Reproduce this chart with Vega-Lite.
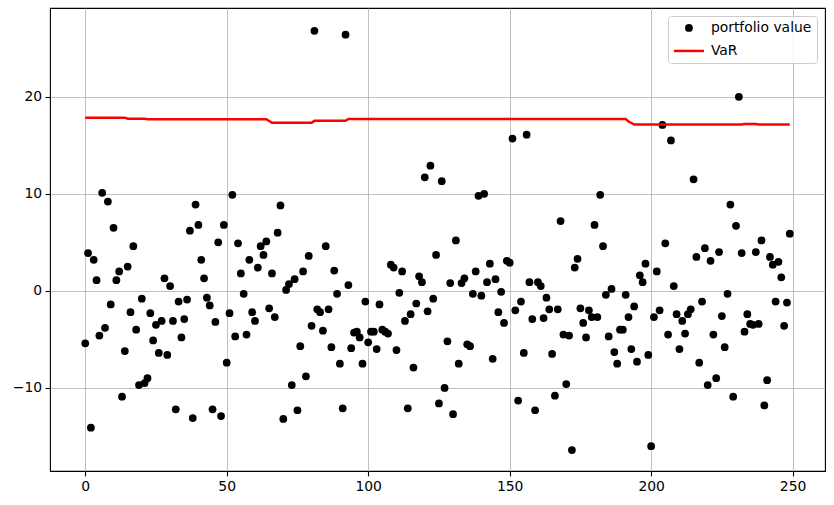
{
"$schema": "https://vega.github.io/schema/vega-lite/v6.json",
"width": 775, "height": 463,
"autosize": {"type": "none"},
"padding": {"left": 50, "top": 8, "right": 9, "bottom": 34},
"background": "white",
"config": {
 "font": "DejaVu Sans",
 "view": {"stroke": "#000000", "strokeWidth": 1.1},
 "axis": {"domain": false, "grid": true, "gridColor": "#b0b0b0", "gridWidth": 0.8, "tickColor": "#000000", "tickSize": 4.9, "tickWidth": 1.1, "labelFont": "DejaVu Sans", "labelFontSize": 13.9, "labelColor": "#000000", "labelPadding": 3.5, "title": null},
 "legend": {"orient": "top-right", "offset": 8, "fillColor": "rgba(255,255,255,0.8)", "strokeColor": "#cccccc", "cornerRadius": 3, "padding": 5, "labelFont": "DejaVu Sans", "labelFontSize": 13.9, "labelColor": "#000000", "rowPadding": 8, "symbolOffset": 9, "labelOffset": 15, "symbolSize": 60, "symbolStrokeWidth": 0, "symbolOpacity": 1}
},
"data": {"values": [
{"t":0,"pv":-5.4,"var":17.85},{"t":1,"pv":3.9,"var":17.85},{"t":2,"pv":-14.1,"var":17.85},{"t":3,"pv":3.2,"var":17.85},{"t":4,"pv":1.1,"var":17.85},{"t":5,"pv":-4.6,"var":17.85},{"t":6,"pv":10.1,"var":17.85},{"t":7,"pv":-3.8,"var":17.85},{"t":8,"pv":9.2,"var":17.85},{"t":9,"pv":-1.4,"var":17.85},
{"t":10,"pv":6.5,"var":17.85},{"t":11,"pv":1.1,"var":17.85},{"t":12,"pv":2.0,"var":17.85},{"t":13,"pv":-10.9,"var":17.85},{"t":14,"pv":-6.2,"var":17.85},{"t":15,"pv":2.5,"var":17.75},{"t":16,"pv":-2.2,"var":17.75},{"t":17,"pv":4.6,"var":17.75},{"t":18,"pv":-4.0,"var":17.75},{"t":19,"pv":-9.7,"var":17.75},
{"t":20,"pv":-0.8,"var":17.75},{"t":21,"pv":-9.5,"var":17.75},{"t":22,"pv":-9.0,"var":17.68},{"t":23,"pv":-2.3,"var":17.68},{"t":24,"pv":-5.1,"var":17.68},{"t":25,"pv":-3.5,"var":17.68},{"t":26,"pv":-6.4,"var":17.68},{"t":27,"pv":-3.1,"var":17.68},{"t":28,"pv":1.3,"var":17.68},{"t":29,"pv":-6.6,"var":17.68},
{"t":30,"pv":0.5,"var":17.68},{"t":31,"pv":-3.1,"var":17.68},{"t":32,"pv":-12.2,"var":17.68},{"t":33,"pv":-1.1,"var":17.68},{"t":34,"pv":-4.8,"var":17.68},{"t":35,"pv":-2.9,"var":17.68},{"t":36,"pv":-0.9,"var":17.68},{"t":37,"pv":6.2,"var":17.68},{"t":38,"pv":-13.1,"var":17.68},{"t":39,"pv":8.9,"var":17.68},
{"t":40,"pv":6.8,"var":17.68},{"t":41,"pv":3.2,"var":17.68},{"t":42,"pv":1.3,"var":17.68},{"t":43,"pv":-0.7,"var":17.68},{"t":44,"pv":-1.5,"var":17.68},{"t":45,"pv":-12.2,"var":17.68},{"t":46,"pv":-3.2,"var":17.68},{"t":47,"pv":5.0,"var":17.68},{"t":48,"pv":-12.9,"var":17.68},{"t":49,"pv":6.8,"var":17.68},
{"t":50,"pv":-7.4,"var":17.68},{"t":51,"pv":-2.3,"var":17.68},{"t":52,"pv":9.9,"var":17.68},{"t":53,"pv":-4.7,"var":17.68},{"t":54,"pv":4.9,"var":17.68},{"t":55,"pv":1.8,"var":17.68},{"t":56,"pv":-0.3,"var":17.68},{"t":57,"pv":-4.5,"var":17.68},{"t":58,"pv":3.2,"var":17.68},{"t":59,"pv":-2.2,"var":17.68},
{"t":60,"pv":-3.1,"var":17.68},{"t":61,"pv":2.4,"var":17.68},{"t":62,"pv":4.6,"var":17.68},{"t":63,"pv":3.7,"var":17.68},{"t":64,"pv":5.1,"var":17.68},{"t":65,"pv":-1.8,"var":17.5},{"t":66,"pv":1.8,"var":17.32},{"t":67,"pv":-2.7,"var":17.32},{"t":68,"pv":6.0,"var":17.32},{"t":69,"pv":8.8,"var":17.32},
{"t":70,"pv":-13.2,"var":17.32},{"t":71,"pv":0.1,"var":17.32},{"t":72,"pv":0.7,"var":17.32},{"t":73,"pv":-9.7,"var":17.32},{"t":74,"pv":1.2,"var":17.32},{"t":75,"pv":-12.3,"var":17.32},{"t":76,"pv":-5.7,"var":17.32},{"t":77,"pv":2.0,"var":17.32},{"t":78,"pv":-8.8,"var":17.32},{"t":79,"pv":3.6,"var":17.32},
{"t":80,"pv":-3.6,"var":17.32},{"t":81,"pv":26.8,"var":17.52},{"t":82,"pv":-1.9,"var":17.52},{"t":83,"pv":-2.2,"var":17.52},{"t":84,"pv":-4.1,"var":17.52},{"t":85,"pv":4.6,"var":17.52},{"t":86,"pv":-1.9,"var":17.52},{"t":87,"pv":-5.8,"var":17.52},{"t":88,"pv":2.1,"var":17.52},{"t":89,"pv":-0.3,"var":17.52},
{"t":90,"pv":-7.5,"var":17.52},{"t":91,"pv":-12.1,"var":17.52},{"t":92,"pv":26.4,"var":17.52},{"t":93,"pv":0.6,"var":17.72},{"t":94,"pv":-5.9,"var":17.72},{"t":95,"pv":-4.3,"var":17.72},{"t":96,"pv":-4.2,"var":17.72},{"t":97,"pv":-4.8,"var":17.72},{"t":98,"pv":-7.5,"var":17.72},{"t":99,"pv":-1.1,"var":17.72},
{"t":100,"pv":-5.3,"var":17.72},{"t":101,"pv":-4.2,"var":17.72},{"t":102,"pv":-4.2,"var":17.72},{"t":103,"pv":-6.0,"var":17.72},{"t":104,"pv":-1.4,"var":17.72},{"t":105,"pv":-4.0,"var":17.72},{"t":106,"pv":-4.2,"var":17.72},{"t":107,"pv":-4.4,"var":17.72},{"t":108,"pv":2.7,"var":17.72},{"t":109,"pv":2.4,"var":17.72},
{"t":110,"pv":-6.1,"var":17.72},{"t":111,"pv":-0.2,"var":17.72},{"t":112,"pv":2.0,"var":17.72},{"t":113,"pv":-3.1,"var":17.72},{"t":114,"pv":-12.1,"var":17.72},{"t":115,"pv":-2.4,"var":17.72},{"t":116,"pv":-7.9,"var":17.72},{"t":117,"pv":-1.3,"var":17.72},{"t":118,"pv":1.5,"var":17.72},{"t":119,"pv":0.9,"var":17.72},
{"t":120,"pv":11.7,"var":17.72},{"t":121,"pv":-2.1,"var":17.72},{"t":122,"pv":12.9,"var":17.72},{"t":123,"pv":-0.8,"var":17.72},{"t":124,"pv":3.7,"var":17.72},{"t":125,"pv":-11.6,"var":17.72},{"t":126,"pv":11.3,"var":17.72},{"t":127,"pv":-10.0,"var":17.72},{"t":128,"pv":-5.2,"var":17.72},{"t":129,"pv":0.8,"var":17.72},
{"t":130,"pv":-12.7,"var":17.72},{"t":131,"pv":5.2,"var":17.72},{"t":132,"pv":-7.5,"var":17.72},{"t":133,"pv":0.8,"var":17.72},{"t":134,"pv":1.3,"var":17.72},{"t":135,"pv":-5.5,"var":17.72},{"t":136,"pv":-5.7,"var":17.72},{"t":137,"pv":-0.3,"var":17.72},{"t":138,"pv":2.0,"var":17.72},{"t":139,"pv":9.8,"var":17.72},
{"t":140,"pv":-0.5,"var":17.72},{"t":141,"pv":10.0,"var":17.72},{"t":142,"pv":0.9,"var":17.72},{"t":143,"pv":2.8,"var":17.72},{"t":144,"pv":-7.0,"var":17.72},{"t":145,"pv":1.2,"var":17.72},{"t":146,"pv":-2.2,"var":17.72},{"t":147,"pv":-0.1,"var":17.72},{"t":148,"pv":-3.3,"var":17.72},{"t":149,"pv":3.1,"var":17.72},
{"t":150,"pv":2.9,"var":17.72},{"t":151,"pv":15.7,"var":17.72},{"t":152,"pv":-2.0,"var":17.72},{"t":153,"pv":-11.3,"var":17.72},{"t":154,"pv":-1.1,"var":17.72},{"t":155,"pv":-6.4,"var":17.72},{"t":156,"pv":16.1,"var":17.72},{"t":157,"pv":0.9,"var":17.72},{"t":158,"pv":-2.9,"var":17.72},{"t":159,"pv":-12.3,"var":17.72},
{"t":160,"pv":0.9,"var":17.72},{"t":161,"pv":0.5,"var":17.72},{"t":162,"pv":-2.8,"var":17.72},{"t":163,"pv":-0.7,"var":17.72},{"t":164,"pv":-1.9,"var":17.72},{"t":165,"pv":-6.5,"var":17.72},{"t":166,"pv":-10.8,"var":17.72},{"t":167,"pv":-1.9,"var":17.72},{"t":168,"pv":7.2,"var":17.72},{"t":169,"pv":-4.5,"var":17.72},
{"t":170,"pv":-9.6,"var":17.72},{"t":171,"pv":-4.6,"var":17.72},{"t":172,"pv":-16.4,"var":17.72},{"t":173,"pv":2.4,"var":17.72},{"t":174,"pv":3.3,"var":17.72},{"t":175,"pv":-1.8,"var":17.72},{"t":176,"pv":-3.3,"var":17.72},{"t":177,"pv":-4.8,"var":17.72},{"t":178,"pv":-2.0,"var":17.72},{"t":179,"pv":-2.7,"var":17.72},
{"t":180,"pv":6.8,"var":17.72},{"t":181,"pv":-2.7,"var":17.72},{"t":182,"pv":9.9,"var":17.72},{"t":183,"pv":4.6,"var":17.72},{"t":184,"pv":-0.4,"var":17.72},{"t":185,"pv":-4.7,"var":17.72},{"t":186,"pv":0.2,"var":17.72},{"t":187,"pv":-6.3,"var":17.72},{"t":188,"pv":-7.5,"var":17.72},{"t":189,"pv":-4.0,"var":17.72},
{"t":190,"pv":-4.0,"var":17.72},{"t":191,"pv":-0.4,"var":17.72},{"t":192,"pv":-2.7,"var":17.45},{"t":193,"pv":-6.0,"var":17.3},{"t":194,"pv":-1.6,"var":17.15},{"t":195,"pv":-7.3,"var":17.15},{"t":196,"pv":1.6,"var":17.15},{"t":197,"pv":0.9,"var":17.15},{"t":198,"pv":2.8,"var":17.15},{"t":199,"pv":-6.6,"var":17.15},
{"t":200,"pv":-16.0,"var":17.15},{"t":201,"pv":-2.7,"var":17.15},{"t":202,"pv":2.0,"var":17.15},{"t":203,"pv":-2.0,"var":17.15},{"t":204,"pv":17.1,"var":17.15},{"t":205,"pv":4.9,"var":17.15},{"t":206,"pv":-4.5,"var":17.15},{"t":207,"pv":15.5,"var":17.15},{"t":208,"pv":0.5,"var":17.15},{"t":209,"pv":-2.4,"var":17.15},
{"t":210,"pv":-6.0,"var":17.15},{"t":211,"pv":-3.1,"var":17.15},{"t":212,"pv":-4.4,"var":17.15},{"t":213,"pv":-2.4,"var":17.15},{"t":214,"pv":-1.9,"var":17.15},{"t":215,"pv":11.5,"var":17.15},{"t":216,"pv":3.5,"var":17.15},{"t":217,"pv":-7.4,"var":17.15},{"t":218,"pv":-1.1,"var":17.15},{"t":219,"pv":4.4,"var":17.15},
{"t":220,"pv":-9.7,"var":17.15},{"t":221,"pv":3.1,"var":17.15},{"t":222,"pv":-4.5,"var":17.15},{"t":223,"pv":-9.0,"var":17.15},{"t":224,"pv":4.0,"var":17.15},{"t":225,"pv":-2.6,"var":17.15},{"t":226,"pv":-5.8,"var":17.15},{"t":227,"pv":-0.3,"var":17.15},{"t":228,"pv":8.9,"var":17.15},{"t":229,"pv":-10.9,"var":17.15},
{"t":230,"pv":6.7,"var":17.15},{"t":231,"pv":20.0,"var":17.15},{"t":232,"pv":3.9,"var":17.15},{"t":233,"pv":-4.2,"var":17.2},{"t":234,"pv":-2.4,"var":17.2},{"t":235,"pv":-3.4,"var":17.2},{"t":236,"pv":-3.5,"var":17.2},{"t":237,"pv":4.0,"var":17.2},{"t":238,"pv":-3.4,"var":17.15},{"t":239,"pv":5.2,"var":17.15},
{"t":240,"pv":-11.8,"var":17.15},{"t":241,"pv":-9.2,"var":17.15},{"t":242,"pv":3.5,"var":17.15},{"t":243,"pv":2.7,"var":17.15},{"t":244,"pv":-1.1,"var":17.15},{"t":245,"pv":3.0,"var":17.15},{"t":246,"pv":1.4,"var":17.15},{"t":247,"pv":-3.6,"var":17.15},{"t":248,"pv":-1.2,"var":17.15},{"t":249,"pv":5.9,"var":17.15}
]},
"encoding": {
 "x": {"field": "t", "type": "quantitative", "scale": {"domain": [-12.45, 261.45], "nice": false, "zero": false}, "axis": {"values": [0, 50, 100, 150, 200, 250], "labelFlush": false}}
},
"layer": [
 {
  "mark": {"type": "point", "filled": true, "size": 60, "opacity": 1, "strokeWidth": 0},
  "encoding": {
   "y": {"field": "pv", "type": "quantitative", "scale": {"domain": [-18.56, 29.15], "nice": false, "zero": false}, "axis": {"values": [-10, 0, 10, 20]}},
   "color": {"datum": "portfolio value", "type": "nominal", "scale": {"domain": ["portfolio value", "VaR"], "range": ["#000000", "#ff0000"]}, "legend": {"title": null}},
   "shape": {"datum": "portfolio value", "type": "nominal", "scale": {"domain": ["portfolio value", "VaR"], "range": ["circle", "M-3.873,-0.323H3.873V0.323H-3.873Z"]}, "legend": {"title": null}}
  }
 },
 {
  "mark": {"type": "line", "strokeWidth": 2.5},
  "encoding": {
   "y": {"field": "var", "type": "quantitative"},
   "color": {"datum": "VaR", "type": "nominal"}
  }
 }
]
}
